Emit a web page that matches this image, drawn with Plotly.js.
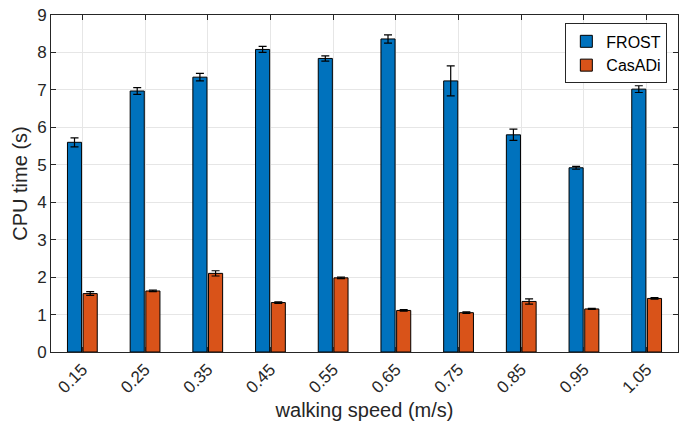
<!DOCTYPE html>
<html>
<head>
<meta charset="utf-8">
<script src="https://cdn.plot.ly/plotly-3.0.1.min.js"></script>
<style>html,body{margin:0;padding:0;background:#fff;}#chart{width:680px;height:423px;}</style>
</head>
<body>
<div id="chart"></div>
<script>
const speeds = [0.15, 0.25, 0.35, 0.45, 0.55, 0.65, 0.75, 0.85, 0.95, 1.05];
const speedLabels = ["0.15","0.25","0.35","0.45","0.55","0.65","0.75","0.85","0.95","1.05"];
const frostTime = [5.60, 6.97, 7.34, 8.08, 7.84, 8.36, 7.24, 5.80, 4.92, 7.02];
const frostErr  = [0.12, 0.09, 0.10, 0.08, 0.07, 0.11, 0.40, 0.15, 0.04, 0.09];
const casadiTime = [1.56, 1.63, 2.10, 1.32, 1.98, 1.11, 1.05, 1.35, 1.15, 1.43];
const casadiErr  = [0.05, 0.02, 0.07, 0.02, 0.02, 0.02, 0.02, 0.07, 0.015, 0.02];
const yTicks = [0,1,2,3,4,5,6,7,8,9];

const fontFam = "Liberation Sans, Arial, sans-serif";
const axisCol = "#262626";

const traces = [
  {
    type: "bar", name: "FROST", x: speeds, y: frostTime,
    marker: {color: "#0072BD", line: {color: "#000000", width: 1}},
    error_y: {type: "data", array: frostErr, visible: true, color: "#000000", thickness: 1.2, width: 4}
  },
  {
    type: "bar", name: "CasADi", x: speeds, y: casadiTime,
    marker: {color: "#D95319", line: {color: "#000000", width: 1}},
    error_y: {type: "data", array: casadiErr, visible: true, color: "#000000", thickness: 1.2, width: 4}
  }
];

const layout = {
  width: 680, height: 423,
  margin: {l: 51, r: 2, t: 15, b: 71},
  paper_bgcolor: "#ffffff", plot_bgcolor: "#ffffff",
  barmode: "group", bargap: 0.5, bargroupgap: 0.1,
  showlegend: true,
  legend: {
    x: 0.983, y: 0.975, xanchor: "right", yanchor: "top",
    bgcolor: "#ffffff", bordercolor: "#262626", borderwidth: 1,
    font: {family: fontFam, size: 16, color: "#000000"},
    traceorder: "normal", tracegroupgap: 0
  },
  xaxis: {
    range: [0.1, 1.1], tickmode: "array", tickvals: speeds, ticktext: speedLabels,
    tickangle: -45, tickfont: {family: fontFam, size: 17, color: axisCol},
    ticks: "inside", ticklen: 5, tickcolor: axisCol, mirror: "ticks",
    showline: true, linecolor: axisCol, linewidth: 1,
    showgrid: true, gridcolor: "#e6e6e6", zeroline: false, automargin: false,
    title: {text: "walking speed (m/s)", font: {family: fontFam, size: 20, color: axisCol}, standoff: 6}
  },
  yaxis: {
    range: [0, 9], tickmode: "array", tickvals: yTicks,
    tickfont: {family: fontFam, size: 17, color: axisCol},
    ticks: "inside", ticklen: 5, tickcolor: axisCol, mirror: "ticks",
    showline: true, linecolor: axisCol, linewidth: 1,
    showgrid: true, gridcolor: "#e6e6e6", zeroline: false, automargin: false,
    title: {text: "CPU time (s)", font: {family: fontFam, size: 20, color: axisCol}, standoff: 4}
  }
};

Plotly.newPlot("chart", traces, layout, {displayModeBar: false, staticPlot: true});
</script>
</body>
</html>
